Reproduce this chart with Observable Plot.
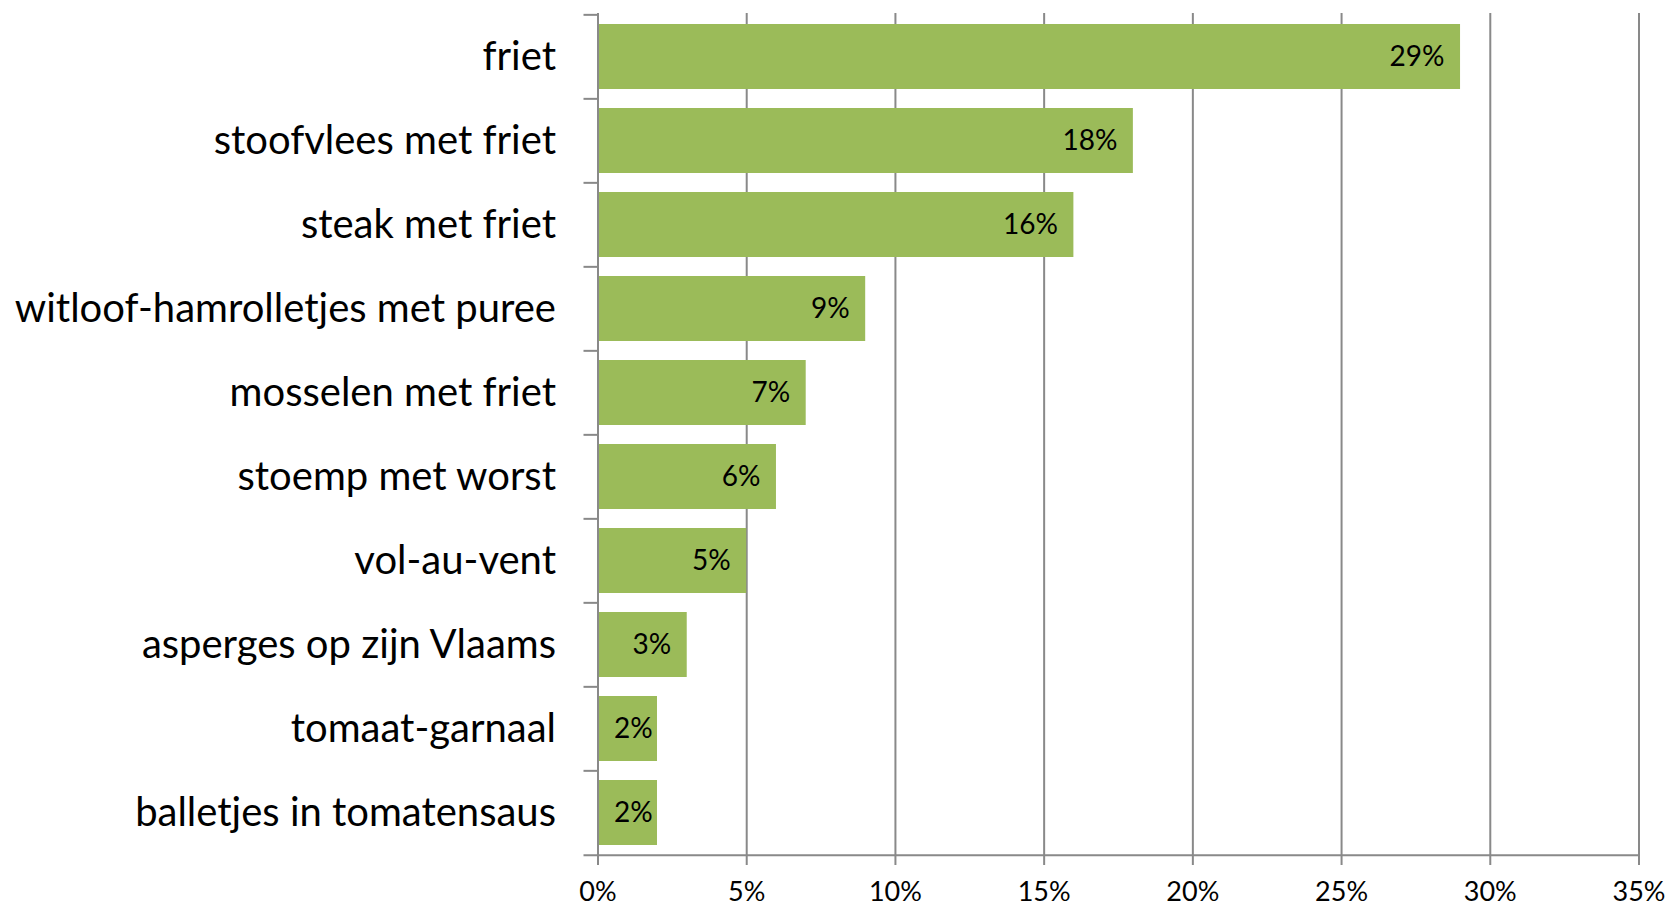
<!DOCTYPE html>
<html>
<head>
<meta charset="utf-8">
<script src="https://cdn.jsdelivr.net/npm/d3@7"></script>
<script src="https://cdn.jsdelivr.net/npm/@observablehq/plot@0.6"></script>
<style>
  html, body { margin: 0; padding: 0; background: #fff; }
  #chart svg { display: block; }
</style>
</head>
<body>
<div id="chart"></div>
<script>
const categories = [
  "friet",
  "stoofvlees met friet",
  "steak met friet",
  "witloof-hamrolletjes met puree",
  "mosselen met friet",
  "stoemp met worst",
  "vol-au-vent",
  "asperges op zijn Vlaams",
  "tomaat-garnaal",
  "balletjes in tomatensaus"
];
const values = [29, 18, 16, 9, 7, 6, 5, 3, 2, 2];
const xTicks = [0, 5, 10, 15, 20, 25, 30, 35];

const data = categories.map((c, i) => ({category: c, value: values[i]}));

const W = 1669, H = 909;
const mL = 597.5, mR = 30.5, mT = 13, mB = 53;
const frameW = W - mL - mR;
const padInner = 0.23, padOuter = 0.115;
const step = (H - mT - mB) / (categories.length - padInner + 2 * padOuter);
const grey = "#898989";

const chart = Plot.plot({
  width: W,
  height: H,
  marginLeft: mL,
  marginRight: mR,
  marginTop: mT,
  marginBottom: mB,
  style: {fontFamily: "Lato, 'Open Sans', sans-serif", color: "black", background: "white"},
  x: {domain: [0, 35]},
  y: {domain: categories, paddingInner: padInner, paddingOuter: padOuter},
  marks: [
    Plot.ruleX(xTicks.filter(d => d > 0), {stroke: grey, strokeWidth: 2}),
    Plot.barX(data, {x: "value", y: "category", fill: "#9BBB59"}),
    Plot.ruleX([0], {stroke: grey, strokeWidth: 2}),
    Plot.ruleY(categories, {dy: -step / 2, insetLeft: -14, insetRight: frameW, stroke: grey, strokeWidth: 2}),
    Plot.ruleY([categories[categories.length - 1]], {dy: step / 2, insetLeft: -14, stroke: grey, strokeWidth: 2}),
    Plot.text(data.filter(d => d.value >= 3), {
      x: "value", y: "category", text: d => d.value + "%",
      textAnchor: "end", dx: -16, fontSize: 28, fill: "black"
    }),
    Plot.text(data.filter(d => d.value < 3), {
      x: 0, y: "category", text: d => d.value + "%",
      textAnchor: "start", dx: 16, fontSize: 28, fill: "black"
    }),
    Plot.axisX({
      ticks: xTicks, tickFormat: d => d + "%", tickSize: 9, tickPadding: 16,
      fontSize: 27, stroke: grey, strokeWidth: 2, fill: "black", label: null
    }),
    Plot.axisY({tickSize: 0, tickPadding: 42, fontSize: 40, fill: "black", label: null})
  ]
});
document.getElementById("chart").appendChild(chart);
</script>
</body>
</html>
